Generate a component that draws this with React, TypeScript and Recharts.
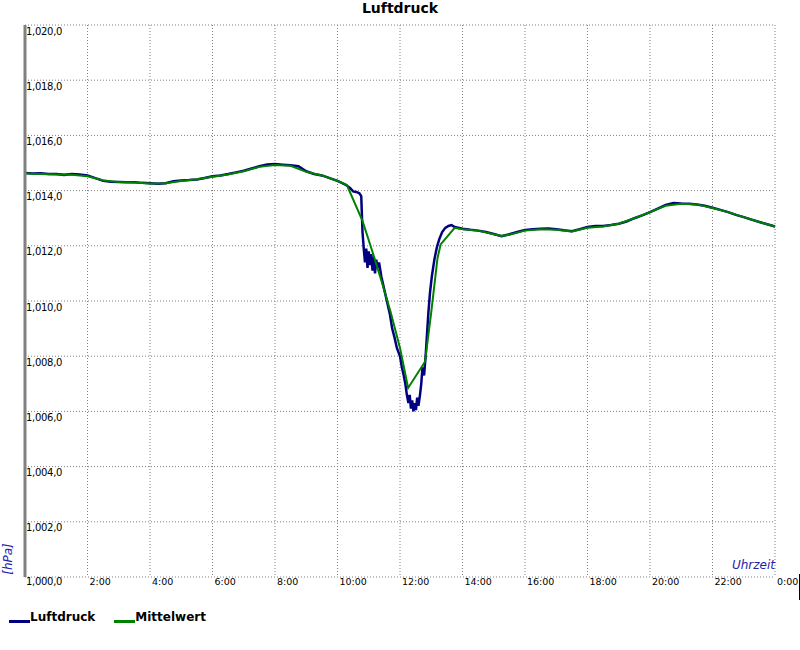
import React from 'react';
import { LineChart, Line, XAxis, YAxis, CartesianGrid } from 'recharts';

// Uhrzeit in Stunden (0..24)
const luftdruckTime = [
  0, 0.25, 0.5, 0.75, 1, 1.25, 1.5, 1.75, 2, 2.25, 2.5, 2.75, 3, 3.25, 3.5, 3.75,
  4, 4.25, 4.5, 4.75, 5, 5.25, 5.5, 5.75, 6, 6.25, 6.5, 6.75, 7, 7.25, 7.5, 7.75,
  8, 8.25, 8.5, 8.75, 9, 9.25, 9.5, 9.75, 10, 10.25, 10.4, 10.5, 10.6, 10.7, 10.76,
  10.8, 10.84, 10.88, 10.92, 10.96, 11.0, 11.04, 11.08, 11.12, 11.16, 11.2, 11.24, 11.28, 11.33,
  11.4, 11.5, 11.6, 11.68, 11.75, 11.82, 11.9, 12.0, 12.06, 12.12, 12.17, 12.22, 12.27,
  12.31, 12.35, 12.39, 12.43, 12.47, 12.51, 12.55, 12.59, 12.64, 12.68, 12.72, 12.77,
  12.82, 12.87, 12.91, 12.96, 13.02, 13.1, 13.18, 13.26, 13.35, 13.45, 13.55, 13.65, 13.75,
  14, 14.25, 14.5, 14.75, 15, 15.25, 15.5, 15.75, 16, 16.25, 16.5, 16.75, 17, 17.25, 17.5, 17.75,
  18, 18.25, 18.5, 18.75, 19, 19.25, 19.5, 19.75, 20, 20.25, 20.5, 20.75, 21, 21.25, 21.5, 21.75,
  22, 22.25, 22.5, 22.75, 23, 23.25, 23.5, 23.75, 24,
];

const luftdruckValue = [
  1014.64, 1014.62, 1014.63, 1014.6, 1014.6, 1014.57, 1014.6, 1014.58, 1014.55, 1014.45, 1014.36, 1014.32, 1014.31, 1014.3, 1014.3, 1014.28,
  1014.27, 1014.25, 1014.27, 1014.34, 1014.37, 1014.38, 1014.4, 1014.46, 1014.52, 1014.55, 1014.6, 1014.66, 1014.72, 1014.8, 1014.88, 1014.95,
  1014.96, 1014.94, 1014.92, 1014.88, 1014.7, 1014.6, 1014.55, 1014.45, 1014.35, 1014.22, 1014.1, 1013.97, 1013.95, 1013.9, 1013.8,
  1012.5, 1011.9, 1011.4, 1011.9, 1011.2, 1011.8, 1011.3, 1011.7, 1011.1, 1011.6, 1011.0, 1011.5, 1011.2, 1011.4,
  1010.9, 1010.4, 1009.9, 1009.5, 1009.0, 1008.7, 1008.3, 1008.0, 1007.6, 1007.3, 1007.0, 1006.6, 1006.3,
  1006.6, 1006.1, 1006.4, 1006.0, 1006.3, 1006.05, 1006.5, 1006.2, 1006.6, 1007.0, 1007.6, 1007.3,
  1008.0, 1008.9, 1009.6, 1010.3, 1010.9, 1011.5, 1011.95, 1012.25, 1012.5, 1012.65, 1012.72, 1012.75, 1012.68,
  1012.62, 1012.58, 1012.55, 1012.5, 1012.43, 1012.35, 1012.42, 1012.5, 1012.57, 1012.6, 1012.62, 1012.63, 1012.6, 1012.56, 1012.53, 1012.6,
  1012.68, 1012.72, 1012.72, 1012.75, 1012.8, 1012.88, 1013.0, 1013.1, 1013.22, 1013.35, 1013.48, 1013.55, 1013.53, 1013.52, 1013.5, 1013.45,
  1013.38, 1013.3, 1013.22, 1013.12, 1013.04, 1012.95, 1012.86, 1012.78, 1012.7,
];

const mittelwertTime = [
  0, 0.5, 1, 1.5, 2, 2.5, 3, 3.5, 4, 4.5, 5, 5.5, 6, 6.5, 7, 7.5, 8, 8.5, 9, 9.5, 10,
  10.3, 10.8, 11.1, 11.4, 11.7, 12, 12.26, 12.8, 13, 13.2, 13.3, 13.75,
  14, 14.5, 15, 15.25, 15.5, 16, 16.5, 17, 17.5, 18, 18.5, 19, 19.5, 20, 20.5, 21, 21.5, 22, 22.5, 23, 23.5, 24,
];

const mittelwertValue = [
  1014.62, 1014.6, 1014.58, 1014.57, 1014.52, 1014.37, 1014.31, 1014.29, 1014.26, 1014.27, 1014.35, 1014.41, 1014.5, 1014.58, 1014.7, 1014.86, 1014.93, 1014.9, 1014.68, 1014.55, 1014.35,
  1014.2, 1012.9, 1011.85, 1010.75, 1009.6, 1008.3, 1006.85, 1007.8, 1009.6, 1011.55, 1012.05, 1012.65,
  1012.6, 1012.55, 1012.42, 1012.36, 1012.4, 1012.55, 1012.6, 1012.58, 1012.52, 1012.65, 1012.7, 1012.8, 1013.0, 1013.22, 1013.45, 1013.52, 1013.5, 1013.37, 1013.22, 1013.04, 1012.86, 1012.7,
];

const xTicks = [0, 2, 4, 6, 8, 10, 12, 14, 16, 18, 20, 22, 24];
const xTickLabels = ['', '2:00', '4:00', '6:00', '8:00', '10:00', '12:00', '14:00', '16:00', '18:00', '20:00', '22:00', '0:00'];
const yTicks = [1000, 1002, 1004, 1006, 1008, 1010, 1012, 1014, 1016, 1018, 1020];
const yTickLabels = ['1,000,0', '1,002,0', '1,004,0', '1,006,0', '1,008,0', '1,010,0', '1,012,0', '1,014,0', '1,016,0', '1,018,0', '1,020,0'];

const luftdruckData = luftdruckTime.map((t, i) => ({ t, v: luftdruckValue[i] }));
const mittelwertData = mittelwertTime.map((t, i) => ({ t, v: mittelwertValue[i] }));

const font = '"DejaVu Sans", Verdana, sans-serif';

const XTick = (props: any) => {
  const { x, payload } = props;
  const label = xTickLabels[xTicks.indexOf(payload.value)];
  return (
    <text x={x + 2} y={585} fontSize={9.5} fontFamily={font} fill="#000">
      {label}
    </text>
  );
};

const YTick = (props: any) => {
  const { y, payload } = props;
  const label = yTickLabels[yTicks.indexOf(payload.value)];
  return (
    <text x={26} y={payload.value === 1000 ? y + 8 : y + 9.5} fontSize={10} fontFamily={font} fill="#000" letterSpacing={-0.3}>
      {label}
    </text>
  );
};

const App: React.FC = () => {
  return (
    <div style={{ position: 'absolute', left: 0, top: 0, width: 800, height: 650, background: '#fff', fontFamily: font }}>
      <div style={{ position: 'absolute', left: 0, top: 0, width: 800, textAlign: 'center', fontSize: 14, fontWeight: 'bold', lineHeight: '16px' }}>
        Luftdruck
      </div>
      <LineChart
        width={800}
        height={600}
        margin={{ top: 25, right: 25, left: 5, bottom: 0 }}
        style={{ position: 'absolute', left: 0, top: 0 }}
      >
        <CartesianGrid stroke="#808080" strokeDasharray="1 2" />
        <XAxis
          dataKey="t"
          type="number"
          domain={[0, 24]}
          ticks={xTicks}
          axisLine={false}
          tickLine={false}
          height={23}
          tick={<XTick />}
          interval={0}
        />
        <YAxis
          type="number"
          domain={[1000, 1020]}
          ticks={yTicks}
          width={20}
          axisLine={{ stroke: '#808080', strokeWidth: 3 }}
          tickLine={false}
          tick={<YTick />}
          interval={0}
        />
        <Line data={luftdruckData} dataKey="v" type="linear" stroke="#000080" strokeWidth={2.5} dot={false} isAnimationActive={false} />
        <Line data={mittelwertData} dataKey="v" type="linear" stroke="#008000" strokeWidth={2} dot={false} isAnimationActive={false} />
      </LineChart>
      <div style={{ position: 'absolute', left: 0, top: 542, width: 16, height: 34 }}>
        <div style={{ position: 'absolute', left: 8, top: 17, transform: 'translate(-50%, -50%) rotate(-90deg)', color: '#2222aa', fontStyle: 'italic', fontSize: 12, whiteSpace: 'nowrap' }}>
          [hPa]
        </div>
      </div>
      <div style={{ position: 'absolute', right: 25, top: 558, color: '#2222aa', fontStyle: 'italic', fontSize: 12, whiteSpace: 'nowrap' }}>
        Uhrzeit
      </div>
      <div style={{ position: 'absolute', left: 799, top: 574, width: 1, height: 26, background: '#000' }} />
      <div style={{ position: 'absolute', left: 9, top: 610, display: 'flex', alignItems: 'center', fontSize: 12, fontWeight: 'bold' }}>
        <span style={{ display: 'inline-block', width: 21, height: 3, background: '#000080', marginTop: 8 }} />
        <span style={{ marginRight: 19 }}>Luftdruck</span>
        <span style={{ display: 'inline-block', width: 21, height: 3, background: '#008000', marginTop: 8 }} />
        <span>Mittelwert</span>
      </div>
    </div>
  );
};

export default App;
